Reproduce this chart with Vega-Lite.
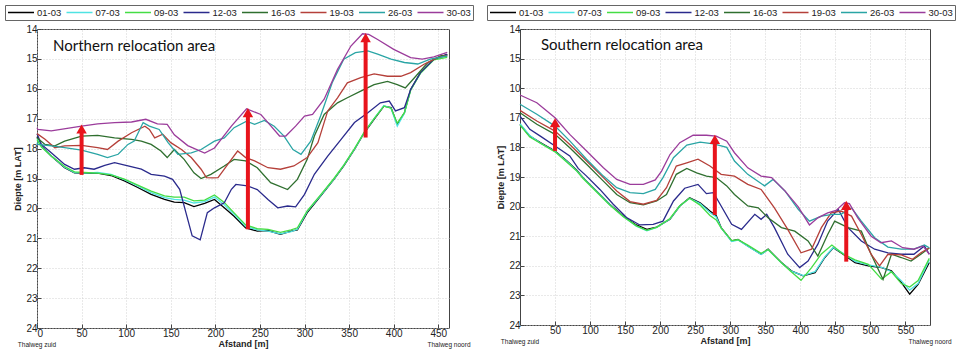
{
"$schema":"https://vega.github.io/schema/vega-lite/v6.json",
"padding":{"left":4,"top":4,"right":2,"bottom":2},
"bounds":"flush",
"spacing":71,
"background":"white",
"datasets":{
"north":[
{"s":"01-03","x":0,"y":17.6},{"s":"01-03","x":5,"y":17.91},{"s":"01-03","x":16,"y":18.25},{"s":"01-03","x":31,"y":18.64},{"s":"01-03","x":42,"y":18.81},{"s":"01-03","x":53,"y":18.83},{"s":"01-03","x":68,"y":18.82},{"s":"01-03","x":83,"y":18.9},{"s":"01-03","x":98,"y":19.08},{"s":"01-03","x":113,"y":19.3},{"s":"01-03","x":128,"y":19.53},{"s":"01-03","x":143,"y":19.7},{"s":"01-03","x":154,"y":19.79},{"s":"01-03","x":165,"y":19.81},{"s":"01-03","x":176,"y":19.94},{"s":"01-03","x":188,"y":19.83},{"s":"01-03","x":199,"y":19.7},{"s":"01-03","x":210,"y":19.98},{"s":"01-03","x":221,"y":20.26},{"s":"01-03","x":234,"y":20.65},{"s":"01-03","x":247,"y":20.76},{"s":"01-03","x":259,"y":20.74},{"s":"01-03","x":273,"y":20.87},{"s":"01-03","x":285,"y":20.76},{"s":"01-03","x":292,"y":20.72},{"s":"01-03","x":303,"y":20.14},{"s":"01-03","x":318,"y":19.59},{"s":"01-03","x":333,"y":19.03},{"s":"01-03","x":344,"y":18.58},{"s":"01-03","x":356,"y":18.03},{"s":"01-03","x":367,"y":17.47},{"s":"01-03","x":378,"y":17.02},{"s":"01-03","x":389,"y":16.58},{"s":"01-03","x":397,"y":16.63},{"s":"01-03","x":404,"y":17.19},{"s":"01-03","x":412,"y":16.8},{"s":"01-03","x":419,"y":16.02},{"s":"01-03","x":430,"y":15.46},{"s":"01-03","x":445,"y":15.01},{"s":"01-03","x":460,"y":14.85},
{"s":"07-03","x":0,"y":17.65},{"s":"07-03","x":5,"y":17.93},{"s":"07-03","x":16,"y":18.25},{"s":"07-03","x":31,"y":18.62},{"s":"07-03","x":42,"y":18.8},{"s":"07-03","x":53,"y":18.82},{"s":"07-03","x":68,"y":18.8},{"s":"07-03","x":83,"y":18.86},{"s":"07-03","x":98,"y":19.04},{"s":"07-03","x":113,"y":19.25},{"s":"07-03","x":128,"y":19.47},{"s":"07-03","x":143,"y":19.64},{"s":"07-03","x":154,"y":19.7},{"s":"07-03","x":165,"y":19.72},{"s":"07-03","x":176,"y":19.82},{"s":"07-03","x":188,"y":19.77},{"s":"07-03","x":199,"y":19.62},{"s":"07-03","x":210,"y":19.88},{"s":"07-03","x":221,"y":20.2},{"s":"07-03","x":234,"y":20.6},{"s":"07-03","x":247,"y":20.72},{"s":"07-03","x":259,"y":20.76},{"s":"07-03","x":273,"y":20.85},{"s":"07-03","x":285,"y":20.78},{"s":"07-03","x":292,"y":20.7},{"s":"07-03","x":303,"y":20.1},{"s":"07-03","x":318,"y":19.57},{"s":"07-03","x":333,"y":19.02},{"s":"07-03","x":344,"y":18.56},{"s":"07-03","x":356,"y":18.02},{"s":"07-03","x":367,"y":17.46},{"s":"07-03","x":378,"y":17.0},{"s":"07-03","x":389,"y":16.56},{"s":"07-03","x":397,"y":16.65},{"s":"07-03","x":404,"y":17.25},{"s":"07-03","x":412,"y":16.82},{"s":"07-03","x":419,"y":16.03},{"s":"07-03","x":430,"y":15.47},{"s":"07-03","x":445,"y":15.02},{"s":"07-03","x":460,"y":14.9},
{"s":"09-03","x":0,"y":17.7},{"s":"09-03","x":5,"y":17.95},{"s":"09-03","x":16,"y":18.25},{"s":"09-03","x":31,"y":18.6},{"s":"09-03","x":42,"y":18.78},{"s":"09-03","x":53,"y":18.8},{"s":"09-03","x":68,"y":18.82},{"s":"09-03","x":83,"y":18.88},{"s":"09-03","x":98,"y":19.02},{"s":"09-03","x":113,"y":19.22},{"s":"09-03","x":128,"y":19.42},{"s":"09-03","x":143,"y":19.58},{"s":"09-03","x":154,"y":19.62},{"s":"09-03","x":165,"y":19.62},{"s":"09-03","x":176,"y":19.75},{"s":"09-03","x":188,"y":19.72},{"s":"09-03","x":199,"y":19.55},{"s":"09-03","x":210,"y":19.8},{"s":"09-03","x":221,"y":20.15},{"s":"09-03","x":234,"y":20.55},{"s":"09-03","x":247,"y":20.68},{"s":"09-03","x":259,"y":20.7},{"s":"09-03","x":273,"y":20.8},{"s":"09-03","x":285,"y":20.72},{"s":"09-03","x":292,"y":20.65},{"s":"09-03","x":303,"y":20.08},{"s":"09-03","x":318,"y":19.55},{"s":"09-03","x":333,"y":19.0},{"s":"09-03","x":344,"y":18.55},{"s":"09-03","x":356,"y":18.0},{"s":"09-03","x":367,"y":17.45},{"s":"09-03","x":378,"y":17.0},{"s":"09-03","x":389,"y":16.58},{"s":"09-03","x":397,"y":16.65},{"s":"09-03","x":404,"y":17.15},{"s":"09-03","x":412,"y":16.8},{"s":"09-03","x":419,"y":16.05},{"s":"09-03","x":430,"y":15.48},{"s":"09-03","x":445,"y":15.03},{"s":"09-03","x":460,"y":14.95},
{"s":"12-03","x":0,"y":17.5},{"s":"12-03","x":5,"y":17.86},{"s":"12-03","x":16,"y":18.14},{"s":"12-03","x":31,"y":18.53},{"s":"12-03","x":42,"y":18.69},{"s":"12-03","x":53,"y":18.64},{"s":"12-03","x":64,"y":18.69},{"s":"12-03","x":76,"y":18.56},{"s":"12-03","x":87,"y":18.47},{"s":"12-03","x":102,"y":18.58},{"s":"12-03","x":117,"y":18.69},{"s":"12-03","x":128,"y":18.86},{"s":"12-03","x":143,"y":18.92},{"s":"12-03","x":152,"y":19.03},{"s":"12-03","x":160,"y":19.36},{"s":"12-03","x":167,"y":20.14},{"s":"12-03","x":174,"y":20.92},{"s":"12-03","x":183,"y":21.05},{"s":"12-03","x":191,"y":20.14},{"s":"12-03","x":199,"y":19.98},{"s":"12-03","x":210,"y":19.81},{"s":"12-03","x":218,"y":19.36},{"s":"12-03","x":223,"y":19.2},{"s":"12-03","x":236,"y":19.25},{"s":"12-03","x":247,"y":19.37},{"s":"12-03","x":259,"y":19.7},{"s":"12-03","x":270,"y":19.98},{"s":"12-03","x":281,"y":19.92},{"s":"12-03","x":290,"y":19.95},{"s":"12-03","x":300,"y":19.53},{"s":"12-03","x":311,"y":18.86},{"s":"12-03","x":326,"y":18.25},{"s":"12-03","x":341,"y":17.69},{"s":"12-03","x":356,"y":17.13},{"s":"12-03","x":371,"y":16.8},{"s":"12-03","x":385,"y":16.47},{"s":"12-03","x":395,"y":16.41},{"s":"12-03","x":402,"y":16.74},{"s":"12-03","x":412,"y":16.63},{"s":"12-03","x":419,"y":16.02},{"s":"12-03","x":430,"y":15.46},{"s":"12-03","x":445,"y":15.01},{"s":"12-03","x":460,"y":14.85},
{"s":"16-03","x":0,"y":17.64},{"s":"16-03","x":9,"y":17.86},{"s":"16-03","x":20,"y":17.91},{"s":"16-03","x":31,"y":17.75},{"s":"16-03","x":50,"y":17.58},{"s":"16-03","x":68,"y":17.56},{"s":"16-03","x":87,"y":17.64},{"s":"16-03","x":106,"y":17.69},{"s":"16-03","x":117,"y":17.75},{"s":"16-03","x":128,"y":17.86},{"s":"16-03","x":139,"y":18.08},{"s":"16-03","x":146,"y":18.3},{"s":"16-03","x":154,"y":18.03},{"s":"16-03","x":165,"y":18.36},{"s":"16-03","x":176,"y":18.81},{"s":"16-03","x":184,"y":19.0},{"s":"16-03","x":195,"y":18.86},{"s":"16-03","x":210,"y":18.58},{"s":"16-03","x":221,"y":18.36},{"s":"16-03","x":234,"y":18.41},{"s":"16-03","x":247,"y":18.64},{"s":"16-03","x":262,"y":19.14},{"s":"16-03","x":281,"y":19.37},{"s":"16-03","x":292,"y":19.03},{"s":"16-03","x":303,"y":18.36},{"s":"16-03","x":311,"y":17.58},{"s":"16-03","x":322,"y":16.86},{"s":"16-03","x":337,"y":16.47},{"s":"16-03","x":348,"y":16.3},{"s":"16-03","x":363,"y":16.08},{"s":"16-03","x":378,"y":15.86},{"s":"16-03","x":393,"y":15.75},{"s":"16-03","x":404,"y":15.86},{"s":"16-03","x":413,"y":15.97},{"s":"16-03","x":423,"y":15.64},{"s":"16-03","x":438,"y":15.13},{"s":"16-03","x":453,"y":14.89},{"s":"16-03","x":460,"y":14.9},
{"s":"19-03","x":0,"y":17.5},{"s":"19-03","x":9,"y":17.69},{"s":"19-03","x":20,"y":17.97},{"s":"19-03","x":31,"y":17.91},{"s":"19-03","x":50,"y":17.89},{"s":"19-03","x":68,"y":17.97},{"s":"19-03","x":79,"y":18.03},{"s":"19-03","x":91,"y":17.75},{"s":"19-03","x":106,"y":17.47},{"s":"19-03","x":121,"y":17.25},{"s":"19-03","x":126,"y":17.36},{"s":"19-03","x":132,"y":17.64},{"s":"19-03","x":141,"y":17.52},{"s":"19-03","x":150,"y":17.8},{"s":"19-03","x":162,"y":18.03},{"s":"19-03","x":173,"y":18.3},{"s":"19-03","x":184,"y":18.69},{"s":"19-03","x":190,"y":18.97},{"s":"19-03","x":197,"y":18.98},{"s":"19-03","x":203,"y":18.97},{"s":"19-03","x":210,"y":18.69},{"s":"19-03","x":218,"y":18.36},{"s":"19-03","x":225,"y":18.08},{"s":"19-03","x":234,"y":18.3},{"s":"19-03","x":244,"y":18.41},{"s":"19-03","x":259,"y":18.64},{"s":"19-03","x":273,"y":18.69},{"s":"19-03","x":288,"y":18.58},{"s":"19-03","x":303,"y":18.3},{"s":"19-03","x":315,"y":17.8},{"s":"19-03","x":326,"y":16.74},{"s":"19-03","x":337,"y":16.3},{"s":"19-03","x":348,"y":15.8},{"s":"19-03","x":363,"y":15.63},{"s":"19-03","x":378,"y":15.5},{"s":"19-03","x":393,"y":15.58},{"s":"19-03","x":408,"y":15.58},{"s":"19-03","x":419,"y":15.46},{"s":"19-03","x":434,"y":15.18},{"s":"19-03","x":449,"y":14.96},{"s":"19-03","x":460,"y":14.88},
{"s":"26-03","x":0,"y":17.8},{"s":"26-03","x":1,"y":17.86},{"s":"26-03","x":16,"y":17.91},{"s":"26-03","x":31,"y":17.97},{"s":"26-03","x":50,"y":18.05},{"s":"26-03","x":68,"y":18.19},{"s":"26-03","x":79,"y":18.3},{"s":"26-03","x":91,"y":18.19},{"s":"26-03","x":102,"y":17.86},{"s":"26-03","x":109,"y":17.75},{"s":"26-03","x":119,"y":17.13},{"s":"26-03","x":126,"y":17.25},{"s":"26-03","x":137,"y":17.36},{"s":"26-03","x":147,"y":17.8},{"s":"26-03","x":158,"y":18.19},{"s":"26-03","x":173,"y":18.14},{"s":"26-03","x":184,"y":18.03},{"s":"26-03","x":199,"y":17.75},{"s":"26-03","x":210,"y":17.64},{"s":"26-03","x":221,"y":17.3},{"s":"26-03","x":235,"y":17.08},{"s":"26-03","x":244,"y":17.19},{"s":"26-03","x":255,"y":17.06},{"s":"26-03","x":266,"y":17.25},{"s":"26-03","x":277,"y":17.58},{"s":"26-03","x":287,"y":18.03},{"s":"26-03","x":296,"y":18.19},{"s":"26-03","x":307,"y":17.75},{"s":"26-03","x":318,"y":16.91},{"s":"26-03","x":331,"y":15.8},{"s":"26-03","x":344,"y":15.01},{"s":"26-03","x":357,"y":14.79},{"s":"26-03","x":371,"y":14.73},{"s":"26-03","x":382,"y":14.84},{"s":"26-03","x":397,"y":15.01},{"s":"26-03","x":412,"y":15.12},{"s":"26-03","x":427,"y":15.17},{"s":"26-03","x":441,"y":15.01},{"s":"26-03","x":460,"y":14.9},
{"s":"30-03","x":0,"y":17.3},{"s":"30-03","x":1,"y":17.36},{"s":"30-03","x":16,"y":17.41},{"s":"30-03","x":50,"y":17.25},{"s":"30-03","x":68,"y":17.17},{"s":"30-03","x":87,"y":17.13},{"s":"30-03","x":106,"y":17.11},{"s":"30-03","x":122,"y":17.02},{"s":"30-03","x":135,"y":17.17},{"s":"30-03","x":146,"y":17.19},{"s":"30-03","x":154,"y":17.54},{"s":"30-03","x":169,"y":17.9},{"s":"30-03","x":188,"y":18.15},{"s":"30-03","x":199,"y":17.98},{"s":"30-03","x":218,"y":17.25},{"s":"30-03","x":235,"y":16.67},{"s":"30-03","x":251,"y":16.86},{"s":"30-03","x":259,"y":17.13},{"s":"30-03","x":272,"y":17.58},{"s":"30-03","x":279,"y":17.58},{"s":"30-03","x":290,"y":17.25},{"s":"30-03","x":300,"y":16.91},{"s":"30-03","x":309,"y":16.86},{"s":"30-03","x":322,"y":16.35},{"s":"30-03","x":337,"y":15.35},{"s":"30-03","x":352,"y":14.57},{"s":"30-03","x":365,"y":14.16},{"s":"30-03","x":372,"y":14.18},{"s":"30-03","x":382,"y":14.35},{"s":"30-03","x":400,"y":14.68},{"s":"30-03","x":419,"y":14.96},{"s":"30-03","x":432,"y":15.01},{"s":"30-03","x":445,"y":14.93},{"s":"30-03","x":460,"y":14.78}
],
"south":[
{"s":"01-03","x":0,"y":17.22},{"s":"01-03","x":14,"y":17.62},{"s":"01-03","x":29,"y":17.84},{"s":"01-03","x":50,"y":18.12},{"s":"01-03","x":67,"y":18.46},{"s":"01-03","x":81,"y":18.77},{"s":"01-03","x":90,"y":19.02},{"s":"01-03","x":109,"y":19.47},{"s":"01-03","x":128,"y":19.92},{"s":"01-03","x":147,"y":20.31},{"s":"01-03","x":166,"y":20.62},{"s":"01-03","x":181,"y":20.77},{"s":"01-03","x":195,"y":20.69},{"s":"01-03","x":214,"y":20.43},{"s":"01-03","x":228,"y":19.98},{"s":"01-03","x":242,"y":19.7},{"s":"01-03","x":257,"y":19.87},{"s":"01-03","x":271,"y":20.15},{"s":"01-03","x":280,"y":20.31},{"s":"01-03","x":287,"y":20.71},{"s":"01-03","x":302,"y":21.16},{"s":"01-03","x":311,"y":21.11},{"s":"01-03","x":325,"y":21.33},{"s":"01-03","x":344,"y":21.61},{"s":"01-03","x":354,"y":21.44},{"s":"01-03","x":373,"y":21.89},{"s":"01-03","x":387,"y":22.17},{"s":"01-03","x":404,"y":22.34},{"s":"01-03","x":421,"y":22.23},{"s":"01-03","x":435,"y":21.72},{"s":"01-03","x":447,"y":21.39},{"s":"01-03","x":461,"y":21.61},{"s":"01-03","x":478,"y":21.89},{"s":"01-03","x":497,"y":22.0},{"s":"01-03","x":516,"y":22.06},{"s":"01-03","x":530,"y":22.17},{"s":"01-03","x":544,"y":22.56},{"s":"01-03","x":556,"y":22.96},{"s":"01-03","x":568,"y":22.63},{"s":"01-03","x":584,"y":21.89},
{"s":"07-03","x":0,"y":17.2},{"s":"07-03","x":14,"y":17.6},{"s":"07-03","x":29,"y":17.85},{"s":"07-03","x":50,"y":18.14},{"s":"07-03","x":67,"y":18.48},{"s":"07-03","x":81,"y":18.79},{"s":"07-03","x":90,"y":19.03},{"s":"07-03","x":109,"y":19.48},{"s":"07-03","x":128,"y":19.93},{"s":"07-03","x":147,"y":20.33},{"s":"07-03","x":166,"y":20.66},{"s":"07-03","x":181,"y":20.82},{"s":"07-03","x":195,"y":20.7},{"s":"07-03","x":214,"y":20.42},{"s":"07-03","x":228,"y":19.98},{"s":"07-03","x":242,"y":19.72},{"s":"07-03","x":257,"y":19.9},{"s":"07-03","x":271,"y":20.2},{"s":"07-03","x":280,"y":20.35},{"s":"07-03","x":287,"y":20.72},{"s":"07-03","x":302,"y":21.18},{"s":"07-03","x":311,"y":21.13},{"s":"07-03","x":325,"y":21.34},{"s":"07-03","x":344,"y":21.62},{"s":"07-03","x":354,"y":21.45},{"s":"07-03","x":373,"y":21.9},{"s":"07-03","x":387,"y":22.18},{"s":"07-03","x":404,"y":22.33},{"s":"07-03","x":421,"y":22.2},{"s":"07-03","x":435,"y":21.7},{"s":"07-03","x":447,"y":21.38},{"s":"07-03","x":461,"y":21.58},{"s":"07-03","x":478,"y":21.85},{"s":"07-03","x":497,"y":21.97},{"s":"07-03","x":516,"y":22.05},{"s":"07-03","x":530,"y":22.2},{"s":"07-03","x":544,"y":22.5},{"s":"07-03","x":556,"y":22.82},{"s":"07-03","x":568,"y":22.6},{"s":"07-03","x":584,"y":21.8},
{"s":"09-03","x":0,"y":17.25},{"s":"09-03","x":14,"y":17.65},{"s":"09-03","x":29,"y":17.86},{"s":"09-03","x":50,"y":18.15},{"s":"09-03","x":67,"y":18.5},{"s":"09-03","x":81,"y":18.8},{"s":"09-03","x":90,"y":19.05},{"s":"09-03","x":109,"y":19.5},{"s":"09-03","x":128,"y":19.95},{"s":"09-03","x":147,"y":20.33},{"s":"09-03","x":166,"y":20.65},{"s":"09-03","x":181,"y":20.8},{"s":"09-03","x":195,"y":20.7},{"s":"09-03","x":214,"y":20.4},{"s":"09-03","x":228,"y":19.97},{"s":"09-03","x":242,"y":19.72},{"s":"09-03","x":257,"y":19.95},{"s":"09-03","x":271,"y":20.3},{"s":"09-03","x":280,"y":20.45},{"s":"09-03","x":287,"y":20.72},{"s":"09-03","x":302,"y":21.15},{"s":"09-03","x":311,"y":21.12},{"s":"09-03","x":325,"y":21.3},{"s":"09-03","x":344,"y":21.58},{"s":"09-03","x":354,"y":21.45},{"s":"09-03","x":373,"y":21.9},{"s":"09-03","x":387,"y":22.2},{"s":"09-03","x":401,"y":22.49},{"s":"09-03","x":416,"y":22.06},{"s":"09-03","x":430,"y":21.6},{"s":"09-03","x":445,"y":21.3},{"s":"09-03","x":461,"y":21.6},{"s":"09-03","x":478,"y":21.8},{"s":"09-03","x":497,"y":21.95},{"s":"09-03","x":516,"y":22.45},{"s":"09-03","x":530,"y":22.2},{"s":"09-03","x":544,"y":22.6},{"s":"09-03","x":556,"y":22.72},{"s":"09-03","x":568,"y":22.5},{"s":"09-03","x":584,"y":21.75},
{"s":"12-03","x":0,"y":16.94},{"s":"12-03","x":14,"y":17.39},{"s":"12-03","x":29,"y":17.62},{"s":"12-03","x":50,"y":17.95},{"s":"12-03","x":71,"y":18.29},{"s":"12-03","x":83,"y":18.71},{"s":"12-03","x":95,"y":18.97},{"s":"12-03","x":114,"y":19.42},{"s":"12-03","x":133,"y":19.92},{"s":"12-03","x":152,"y":20.37},{"s":"12-03","x":171,"y":20.62},{"s":"12-03","x":190,"y":20.6},{"s":"12-03","x":204,"y":20.49},{"s":"12-03","x":219,"y":19.81},{"s":"12-03","x":235,"y":19.38},{"s":"12-03","x":254,"y":19.25},{"s":"12-03","x":266,"y":19.56},{"s":"12-03","x":276,"y":19.53},{"s":"12-03","x":287,"y":19.98},{"s":"12-03","x":302,"y":20.6},{"s":"12-03","x":316,"y":20.77},{"s":"12-03","x":335,"y":20.26},{"s":"12-03","x":344,"y":20.43},{"s":"12-03","x":352,"y":20.26},{"s":"12-03","x":363,"y":20.71},{"s":"12-03","x":382,"y":21.61},{"s":"12-03","x":399,"y":22.06},{"s":"12-03","x":411,"y":21.84},{"s":"12-03","x":425,"y":21.27},{"s":"12-03","x":439,"y":20.49},{"s":"12-03","x":454,"y":20.09},{"s":"12-03","x":468,"y":20.71},{"s":"12-03","x":487,"y":21.16},{"s":"12-03","x":506,"y":21.44},{"s":"12-03","x":525,"y":21.56},{"s":"12-03","x":544,"y":21.61},{"s":"12-03","x":562,"y":21.61},{"s":"12-03","x":577,"y":21.33},{"s":"12-03","x":584,"y":21.61},
{"s":"16-03","x":0,"y":16.83},{"s":"16-03","x":24,"y":17.22},{"s":"16-03","x":50,"y":17.56},{"s":"16-03","x":71,"y":18.01},{"s":"16-03","x":95,"y":18.57},{"s":"16-03","x":119,"y":19.14},{"s":"16-03","x":138,"y":19.59},{"s":"16-03","x":157,"y":19.87},{"s":"16-03","x":176,"y":19.94},{"s":"16-03","x":195,"y":19.81},{"s":"16-03","x":209,"y":19.59},{"s":"16-03","x":223,"y":18.91},{"s":"16-03","x":238,"y":18.71},{"s":"16-03","x":252,"y":18.86},{"s":"16-03","x":266,"y":18.97},{"s":"16-03","x":280,"y":19.02},{"s":"16-03","x":295,"y":19.3},{"s":"16-03","x":306,"y":19.59},{"s":"16-03","x":325,"y":19.98},{"s":"16-03","x":340,"y":20.04},{"s":"16-03","x":354,"y":20.38},{"s":"16-03","x":373,"y":20.71},{"s":"16-03","x":392,"y":20.83},{"s":"16-03","x":411,"y":21.16},{"s":"16-03","x":425,"y":21.67},{"s":"16-03","x":439,"y":20.94},{"s":"16-03","x":449,"y":20.49},{"s":"16-03","x":468,"y":20.71},{"s":"16-03","x":487,"y":20.83},{"s":"16-03","x":501,"y":21.61},{"s":"16-03","x":518,"y":22.46},{"s":"16-03","x":530,"y":21.61},{"s":"16-03","x":544,"y":21.72},{"s":"16-03","x":558,"y":21.84},{"s":"16-03","x":572,"y":21.61},{"s":"16-03","x":584,"y":21.4},
{"s":"19-03","x":0,"y":16.75},{"s":"19-03","x":24,"y":17.11},{"s":"19-03","x":50,"y":17.45},{"s":"19-03","x":71,"y":17.9},{"s":"19-03","x":95,"y":18.46},{"s":"19-03","x":119,"y":19.02},{"s":"19-03","x":138,"y":19.47},{"s":"19-03","x":157,"y":19.83},{"s":"19-03","x":176,"y":19.92},{"s":"19-03","x":195,"y":19.79},{"s":"19-03","x":209,"y":19.36},{"s":"19-03","x":223,"y":18.63},{"s":"19-03","x":238,"y":18.52},{"s":"19-03","x":254,"y":18.4},{"s":"19-03","x":271,"y":18.63},{"s":"19-03","x":287,"y":18.91},{"s":"19-03","x":306,"y":18.97},{"s":"19-03","x":325,"y":19.25},{"s":"19-03","x":344,"y":19.42},{"s":"19-03","x":363,"y":20.04},{"s":"19-03","x":382,"y":20.77},{"s":"19-03","x":401,"y":21.56},{"s":"19-03","x":416,"y":21.44},{"s":"19-03","x":430,"y":20.71},{"s":"19-03","x":444,"y":20.21},{"s":"19-03","x":458,"y":20.15},{"s":"19-03","x":473,"y":20.32},{"s":"19-03","x":487,"y":20.94},{"s":"19-03","x":501,"y":21.61},{"s":"19-03","x":513,"y":22.0},{"s":"19-03","x":525,"y":21.61},{"s":"19-03","x":544,"y":21.63},{"s":"19-03","x":560,"y":21.78},{"s":"19-03","x":572,"y":21.56},{"s":"19-03","x":584,"y":21.39},
{"s":"26-03","x":0,"y":16.54},{"s":"26-03","x":24,"y":16.88},{"s":"26-03","x":50,"y":17.28},{"s":"26-03","x":71,"y":17.78},{"s":"26-03","x":95,"y":18.4},{"s":"26-03","x":119,"y":18.97},{"s":"26-03","x":138,"y":19.36},{"s":"26-03","x":157,"y":19.53},{"s":"26-03","x":176,"y":19.56},{"s":"26-03","x":193,"y":19.42},{"s":"26-03","x":204,"y":19.02},{"s":"26-03","x":219,"y":18.35},{"s":"26-03","x":238,"y":17.92},{"s":"26-03","x":257,"y":17.82},{"s":"26-03","x":276,"y":17.88},{"s":"26-03","x":295,"y":18.0},{"s":"26-03","x":306,"y":18.46},{"s":"26-03","x":325,"y":18.91},{"s":"26-03","x":349,"y":19.3},{"s":"26-03","x":361,"y":19.08},{"s":"26-03","x":378,"y":19.47},{"s":"26-03","x":397,"y":20.09},{"s":"26-03","x":413,"y":20.49},{"s":"26-03","x":430,"y":20.32},{"s":"26-03","x":446,"y":20.26},{"s":"26-03","x":458,"y":20.26},{"s":"26-03","x":473,"y":20.04},{"s":"26-03","x":487,"y":20.49},{"s":"26-03","x":506,"y":21.05},{"s":"26-03","x":525,"y":21.37},{"s":"26-03","x":544,"y":21.44},{"s":"26-03","x":562,"y":21.44},{"s":"26-03","x":577,"y":21.3},{"s":"26-03","x":584,"y":21.39},
{"s":"30-03","x":0,"y":16.23},{"s":"30-03","x":24,"y":16.49},{"s":"30-03","x":50,"y":17.0},{"s":"30-03","x":71,"y":17.56},{"s":"30-03","x":95,"y":18.12},{"s":"30-03","x":119,"y":18.69},{"s":"30-03","x":138,"y":19.08},{"s":"30-03","x":157,"y":19.25},{"s":"30-03","x":176,"y":19.25},{"s":"30-03","x":193,"y":19.1},{"s":"30-03","x":202,"y":18.8},{"s":"30-03","x":214,"y":18.24},{"s":"30-03","x":228,"y":17.84},{"s":"30-03","x":247,"y":17.59},{"s":"30-03","x":266,"y":17.59},{"s":"30-03","x":280,"y":17.62},{"s":"30-03","x":295,"y":17.79},{"s":"30-03","x":306,"y":18.18},{"s":"30-03","x":325,"y":18.69},{"s":"30-03","x":344,"y":18.97},{"s":"30-03","x":359,"y":19.02},{"s":"30-03","x":378,"y":19.47},{"s":"30-03","x":397,"y":20.01},{"s":"30-03","x":413,"y":20.62},{"s":"30-03","x":425,"y":20.38},{"s":"30-03","x":439,"y":20.21},{"s":"30-03","x":451,"y":20.13},{"s":"30-03","x":463,"y":19.87},{"s":"30-03","x":470,"y":19.9},{"s":"30-03","x":482,"y":20.38},{"s":"30-03","x":501,"y":21.0},{"s":"30-03","x":515,"y":21.22},{"s":"30-03","x":530,"y":21.16},{"s":"30-03","x":546,"y":21.39},{"s":"30-03","x":562,"y":21.44},{"s":"30-03","x":575,"y":21.33},{"s":"30-03","x":584,"y":21.61}
],
"arrowsN":[{"x":50,"y0":18.88,"y1":17.18},{"x":236.5,"y0":20.7,"y1":16.63},{"x":368.5,"y0":17.63,"y1":14.12}],
"arrowsS":[{"x":50,"y0":18.12,"y1":17.0},{"x":278,"y0":20.28,"y1":17.56},{"x":465.5,"y0":21.86,"y1":19.79}]
},
"config":{
"view":{"stroke":"#444","strokeWidth":1},
"font":"Liberation Sans",
"axis":{"labelFont":"Liberation Sans","labelFontSize":10,"labelColor":"#222","labelOverlap":false,"titleFont":"Liberation Sans","titleFontSize":9,"titleFontWeight":"bold","titleColor":"#222","ticks":true,"tickSize":-4,"tickColor":"#444","domain":false,"gridColor":"#c8c8c8","gridDash":[1,2],"gridWidth":0.8,"labelPadding":4},
"axisX":{"titlePadding":1},
"axisY":{"titlePadding":3},
"legend":{"orient":"none","legendY":-24,"direction":"horizontal","columns":8,"symbolType":"stroke","symbolSize":676,"symbolStrokeWidth":1.5,"clipHeight":11,"labelFontSize":9.5,"labelFont":"Liberation Sans","labelColor":"#222","labelOffset":2,"columnPadding":3.5,"padding":2,"strokeColor":"#666","fillColor":"white","rowPadding":0}
},
"resolve":{"scale":{"color":"independent"},"legend":{"color":"independent"}},
"hconcat":[
{"width":412,"height":299,
"layer":[
{"data":{"name":"north"},"mark":{"type":"line","strokeWidth":1.3},
"encoding":{
"x":{"field":"x","type":"quantitative","scale":{"domain":[0,462],"nice":false,"zero":false},"axis":{"values":[0,50,100,150,200,250,300,350,400,450],"title":"Afstand [m]","labelOverlap":false}},
"y":{"field":"y","type":"quantitative","scale":{"domain":[14,24],"reverse":true,"nice":false,"zero":false},"axis":{"values":[14,15,16,17,18,19,20,21,22,23,24],"tickCount":11,"labelOverlap":false,"labelSeparation":0,"title":"Diepte [m LAT]"}},
"color":{"field":"s","type":"nominal","scale":{"domain":["01-03","07-03","09-03","12-03","16-03","19-03","26-03","30-03"],"range":["#000000","#4fe3e3","#44dd44","#2a2a8c","#2f6f2f","#b5403a","#2aa5a5","#9b3c9b"]},"legend":{"title":null,"legendX":-32}}}},
{"data":{"name":"arrowsN"},"mark":{"type":"rule","color":"#e8141c","strokeWidth":4,"y2Offset":5},
"encoding":{"x":{"field":"x","type":"quantitative"},"y":{"field":"y0","type":"quantitative"},"y2":{"field":"y1"}}},
{"data":{"name":"arrowsN"},"mark":{"type":"point","shape":"triangle-up","filled":true,"color":"#e8141c","opacity":1,"size":110,"yOffset":5},
"encoding":{"x":{"field":"x","type":"quantitative"},"y":{"field":"y1","type":"quantitative"}}},
{"data":{"values":[{}]},"mark":{"type":"text","text":"Northern relocation area","font":"Lato","fontSize":15,"align":"left","baseline":"alphabetic","color":"#111"},
"encoding":{"x":{"datum":18},"y":{"datum":14.74}}},
{"data":{"values":[{}]},"mark":{"type":"text","text":"Thalweg zuid","fontSize":6.5,"dy":17,"baseline":"middle","align":"center","color":"#222"},
"encoding":{"x":{"datum":0},"y":{"datum":24}}},
{"data":{"values":[{}]},"mark":{"type":"text","text":"Thalweg noord","fontSize":6.5,"dy":17,"baseline":"middle","align":"center","color":"#222"},
"encoding":{"x":{"datum":462},"y":{"datum":24}}}
]},
{"width":410,"height":296,
"layer":[
{"data":{"name":"south"},"mark":{"type":"line","strokeWidth":1.3},
"encoding":{
"x":{"field":"x","type":"quantitative","scale":{"domain":[0,585],"nice":false,"zero":false},"axis":{"values":[50,100,150,200,250,300,350,400,450,500,550],"title":"Afstand [m]","labelOverlap":false}},
"y":{"field":"y","type":"quantitative","scale":{"domain":[14,24],"reverse":true,"nice":false,"zero":false},"axis":{"values":[14,15,16,17,18,19,20,21,22,23,24],"tickCount":11,"labelOverlap":false,"labelSeparation":0,"title":"Diepte [m LAT]","labelExpr":"datum.value == 16 ? '10' : datum.label"}},
"color":{"field":"s","type":"nominal","scale":{"domain":["01-03","07-03","09-03","12-03","16-03","19-03","26-03","30-03"],"range":["#000000","#4fe3e3","#44dd44","#2a2a8c","#2f6f2f","#b5403a","#2aa5a5","#9b3c9b"]},"legend":{"title":null,"legendX":-33}}}},
{"data":{"name":"arrowsS"},"mark":{"type":"rule","color":"#e8141c","strokeWidth":4,"y2Offset":5},
"encoding":{"x":{"field":"x","type":"quantitative"},"y":{"field":"y0","type":"quantitative"},"y2":{"field":"y1"}}},
{"data":{"name":"arrowsS"},"mark":{"type":"point","shape":"triangle-up","filled":true,"color":"#e8141c","opacity":1,"size":110,"yOffset":5},
"encoding":{"x":{"field":"x","type":"quantitative"},"y":{"field":"y1","type":"quantitative"}}},
{"data":{"values":[{}]},"mark":{"type":"text","text":"Southern relocation area","font":"Lato","fontSize":15,"align":"left","baseline":"alphabetic","color":"#111"},
"encoding":{"x":{"datum":30},"y":{"datum":14.71}}},
{"data":{"values":[{}]},"mark":{"type":"text","text":"Thalweg zuid","fontSize":6.5,"dy":17,"baseline":"middle","align":"center","color":"#222"},
"encoding":{"x":{"datum":0},"y":{"datum":24}}},
{"data":{"values":[{}]},"mark":{"type":"text","text":"Thalweg noord","fontSize":6.5,"dy":17,"baseline":"middle","align":"center","color":"#222"},
"encoding":{"x":{"datum":585},"y":{"datum":24}}}
]}
]
}
